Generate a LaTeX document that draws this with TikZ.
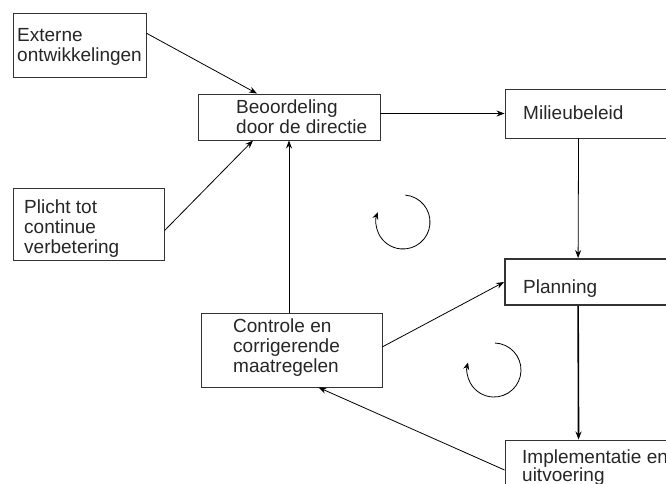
\documentclass[tikz,border=0pt]{standalone}
\usepackage{fontspec}
\setmainfont{Liberation Sans}
\usetikzlibrary{arrows.meta}

\begin{document}
\begin{tikzpicture}[
    x=1pt, y=-1pt,
    box/.style={
        draw=black!80, line width=0.9pt, inner sep=0pt
    },
    txt/.style={
        inner sep=0pt, anchor=base west, align=left,
        font=\fontsize{19}{20}\selectfont, text=black!85
    },
    arr/.style={-{Stealth[length=8pt, width=6pt]}, line width=0.8pt},
    kring/.style={-{Stealth[length=7pt, width=6pt]}, line width=0.8pt}
]
\clip (0,0) rectangle (666,483);

% Vakken links
\node[box, minimum width=133pt, minimum height=64pt] (ext) at (79.5,45) {};
\node[txt] (exttxt) at (17,61) {Externe\\ontwikkelingen};

\node[box, minimum width=151pt, minimum height=72pt] (plicht) at (88.5,224) {};
\node[txt] (plichttxt) at (24,253) {Plicht tot\\continue\\verbetering};

% Midden
\node[box, minimum width=182pt, minimum height=46pt] (beoord) at (289,117) {};
\node[txt] (beoordtxt) at (236,133) {Beoordeling\\door de directie};

\node[box, minimum width=181pt, minimum height=74pt] (contr) at (291.5,350) {};
\node[txt] (contrtxt) at (233,372) {Controle en\\corrigerende\\maatregelen};

% Rechts (loopt door buiten de rand)
\node[box, minimum width=195pt, minimum height=49pt] (milieu) at (602.5,113.5) {};
\node[txt] (milieutxt) at (523,119) {Milieubeleid};

\node[box, line width=1.8pt, minimum width=195pt, minimum height=46pt] (plan) at (602.5,282) {};
\node[txt] (plantxt) at (523,293) {Planning};

\node[box, minimum width=195pt, minimum height=60pt] (impl) at (602.5,470) {};
\node[txt] (impltxt) at (522,481) {Implementatie en\\[-2pt]uitvoering};

% Pijlen
\draw[arr] (ext.10) -- ([xshift=-32pt]beoord.north);
\draw[arr] (plicht.-5) -- ([xshift=-36pt]beoord.south);
\draw[arr] (contr.north -| beoord.south) -- (beoord.south);
\draw[arr] (beoord.east |- milieu.west) -- (milieu.west);
\draw[arr] ([xshift=74pt]milieu.south west) -- ([xshift=74pt]plan.north west);
\draw[arr] (contr.2) -- (plan.west);
\draw[arr, line width=1.6pt] ([xshift=74pt]plan.south west) -- ([xshift=74pt]impl.north west);
\draw[arr] (impl.west) -- ([xshift=27pt]contr.south);

% Kringlopen
\coordinate (k1) at (403,222);
\coordinate (k2) at (494,370);
\draw[kring] ([shift={(-85:27)}]k1) arc[start angle=-85, end angle=201, radius=27];
\draw[kring] ([shift={(-88:27)}]k2) arc[start angle=-88, end angle=196, radius=27];

\end{tikzpicture}
\end{document}
